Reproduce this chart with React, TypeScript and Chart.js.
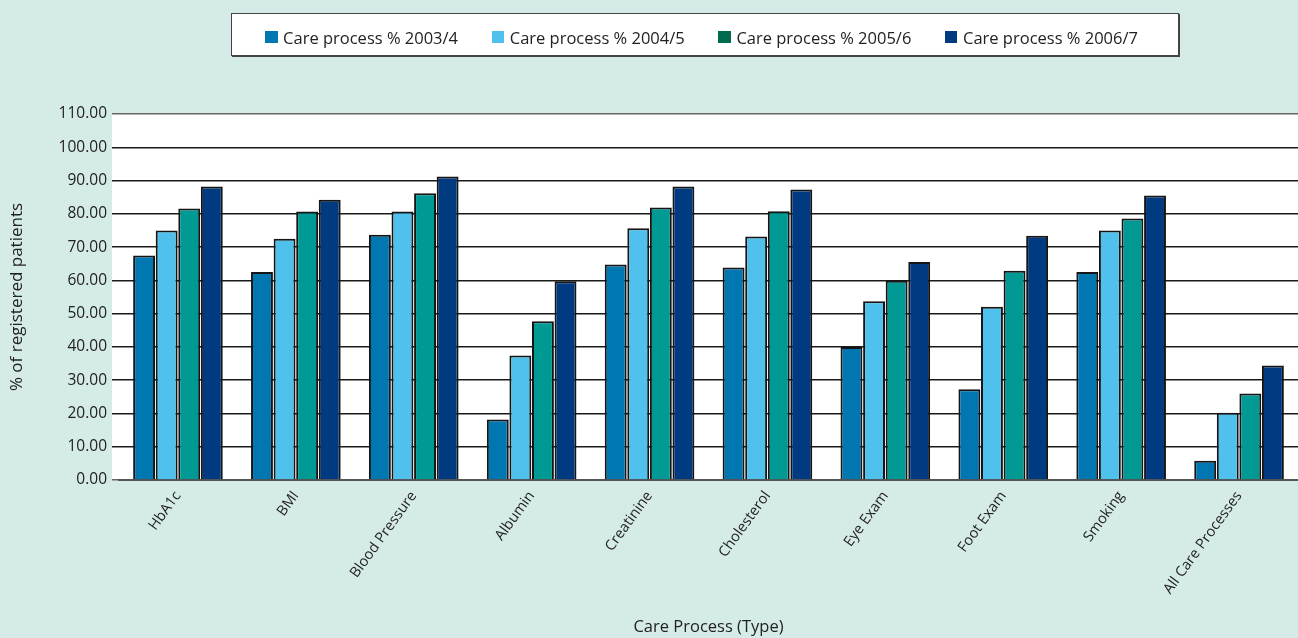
import React, { useEffect, useRef } from "react";
import { Chart, registerables } from "chart.js";

Chart.register(...registerables);

const categories = [
  "HbA1c",
  "BMI",
  "Blood Pressure",
  "Albumin",
  "Creatinine",
  "Cholesterol",
  "Eye Exam",
  "Foot Exam",
  "Smoking",
  "All Care Processes",
];

const seriesLabels = [
  "Care process % 2003/4",
  "Care process % 2004/5",
  "Care process % 2005/6",
  "Care process % 2006/7",
];

const values2003 = [67.5, 62.5, 73.7, 18.2, 64.8, 63.9, 40.0, 27.3, 62.5, 5.8];
const values2004 = [75.0, 72.5, 80.7, 37.4, 75.7, 73.2, 53.7, 52.1, 75.0, 20.2];
const values2005 = [81.6, 80.7, 86.2, 47.7, 81.9, 80.8, 59.9, 62.9, 78.6, 26.0];
const values2006 = [88.2, 84.2, 91.2, 59.7, 88.2, 87.3, 65.5, 73.4, 85.5, 34.4];

const barColors = ["#0077b0", "#4fc1ec", "#009994", "#003a80"];
const legendColors = ["#0077b0", "#4fc1ec", "#006b4f", "#003a80"];

const yMin = 0;
const yMax = 110;
const yStep = 10;

const FONT = "'Open Sans', 'Noto Sans', sans-serif";
const BG = "#d5ebe8";

const plotBackground = {
  id: "plotBackground",
  beforeDraw(chart: any) {
    const { ctx, chartArea } = chart;
    ctx.save();
    ctx.fillStyle = "#ffffff";
    ctx.fillRect(chartArea.left - 7, chartArea.top, chartArea.right - chartArea.left + 7, chartArea.bottom - chartArea.top);
    ctx.restore();
  },
};

export default function App() {
  const canvasRef = useRef<HTMLCanvasElement | null>(null);

  useEffect(() => {
    document.body.style.margin = "0";
    const canvas = canvasRef.current;
    if (!canvas) return;
    const seriesValues = [values2003, values2004, values2005, values2006];
    const chart = new Chart(canvas, {
      type: "bar",
      data: {
        labels: categories,
        datasets: seriesValues.map((vals, i) => ({
          label: seriesLabels[i],
          data: vals,
          backgroundColor: barColors[i],
          borderColor: "#151515",
          borderWidth: 2,
          categoryPercentage: 0.766,
          barPercentage: 0.97,
        })),
      },
      options: {
        animation: false,
        responsive: false,
        maintainAspectRatio: false,
        devicePixelRatio: 1,
        layout: { padding: { top: 114, right: 0, left: 0, bottom: 0 } },
        plugins: {
          legend: { display: false },
          tooltip: { enabled: false },
        },
        scales: {
          x: {
            grid: { display: false, drawTicks: false },
            border: { display: true, color: "#555555", width: 2 },
            ticks: {
              color: "#222222",
              font: { family: FONT, size: 14.5 },
              minRotation: 54,
              maxRotation: 54,
              padding: 8,
              autoSkip: false,
            },
            title: {
              display: true,
              text: "Care Process (Type)",
              color: "#222222",
              font: { family: FONT, size: 16.5 },
              padding: { top: 0, bottom: 1 },
            },
            afterFit(scale: any) {
              scale.height = 158;
            },
          },
          y: {
            min: yMin,
            max: yMax,
            grid: {
              color: (c: any) => (c.tick && (c.tick.value === yMax || c.tick.value === 0) ? "#666666" : "#1a1a1a"),
              lineWidth: 1.5,
              drawTicks: true,
              tickLength: 7,
            },
            border: { display: false },
            ticks: {
              stepSize: yStep,
              color: "#222222",
              font: { family: FONT, size: 15.5 },
              padding: 5,
              callback: (v: any) => Number(v).toFixed(2),
            },
            title: {
              display: true,
              text: "% of registered patients",
              color: "#222222",
              font: { family: FONT, size: 17 },
              padding: { top: 7, bottom: 0 },
            },
            afterFit(scale: any) {
              scale.width = 119;
            },
          },
        },
      },
      plugins: [plotBackground],
    });
    return () => chart.destroy();
  }, []);

  return (
    <div style={{ position: "fixed", left: 0, top: 0, width: 1298, height: 638, background: BG, fontFamily: FONT }}>
      <canvas ref={canvasRef} width={1298} height={638} style={{ position: "absolute", left: 0, top: 0, width: 1298, height: 638 }} />
      <div
        style={{
          position: "absolute",
          left: 231,
          top: 13,
          width: 948,
          height: 43,
          background: "#ffffff",
          border: "1px solid #444",
          boxShadow: "1px 1px 0 #444",
          display: "flex",
          justifyContent: "flex-start",
          alignItems: "center",
          paddingTop: 5,
          paddingLeft: 33,
          boxSizing: "border-box",
          gap: 33.6,
        }}
      >
        {seriesLabels.map((lab, i) => (
          <div key={lab} style={{ display: "flex", alignItems: "center" }}>
            <span style={{ display: "inline-block", width: 12.5, height: 12.5, background: legendColors[i], marginRight: 5.6 }} />
            <span style={{ fontSize: 16.5, color: "#222", whiteSpace: "nowrap" }}>{lab}</span>
          </div>
        ))}
      </div>
    </div>
  );
}
